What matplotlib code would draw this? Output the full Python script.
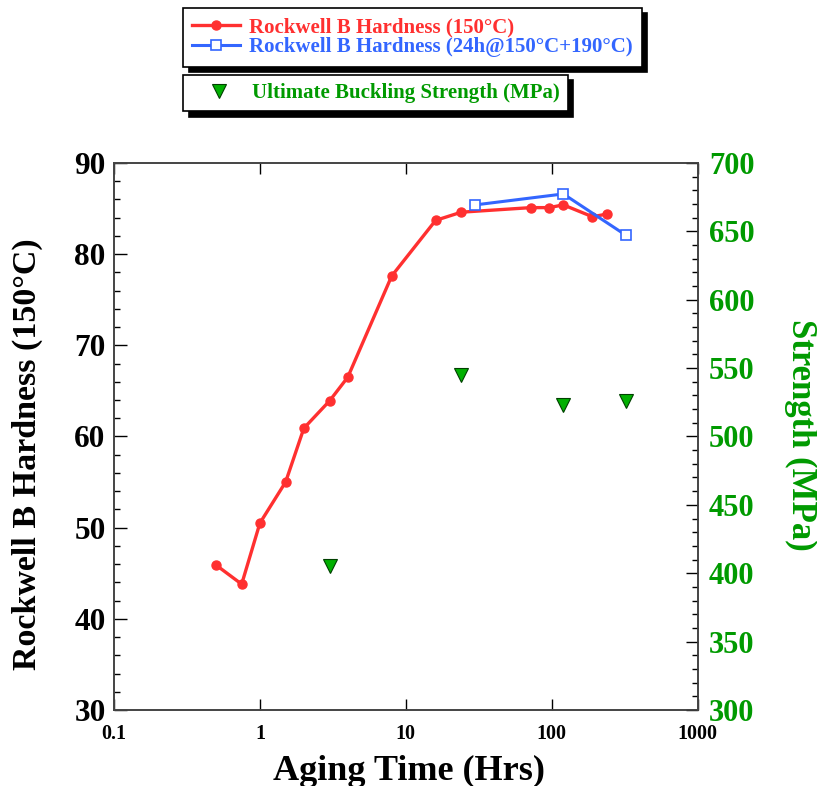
import numpy as np
import matplotlib
matplotlib.use("Agg")
import matplotlib.pyplot as plt
from matplotlib.ticker import MultipleLocator, FixedLocator, NullLocator

plt.rcParams['font.family'] = ['Liberation Serif', 'DejaVu Serif']
plt.rcParams['font.weight'] = 'bold'

# hardness after aging at 150C
t_150 = [0.5, 0.75, 1, 1.5, 2, 3, 4, 8, 16, 24, 72, 96, 120, 190, 240]
hrb_150 = [45.9, 43.8, 50.5, 55.0, 60.9, 63.9, 66.5, 77.6, 83.7, 84.6, 85.1, 85.1, 85.4, 84.1, 84.4]

# hardness, 24h at 150C then 190C
t_190 = [30, 120, 320]
hrb_190 = [85.4, 86.6, 82.1]

# buckling strength
t_str = [3, 24, 120, 322]
strength = [405, 545, 523, 526]

red = '#ff3030'
blue = '#3366ff'
green = '#009a00'

fig = plt.figure(figsize=(8.17, 7.86), dpi=100)
ax = fig.add_axes([0.1395, 0.0967, 0.7145, 0.696])
ax2 = ax.twinx()

l1, = ax.plot(t_150, hrb_150, '-o', color=red, lw=2.4, ms=6.5, label='Rockwell B Hardness (150°C)')
l2, = ax.plot(t_190, hrb_190, '-s', color=blue, lw=2.2, ms=7, mfc='white', mec=blue, mew=1.2,
              label='Rockwell B Hardness (24h@150°C+190°C)')
l3, = ax2.plot(t_str, strength, 'v', color='#00b000', mec='#004000', mew=0.8, ms=10, ls='none',
               label='Ultimate Buckling Strength (MPa)')

ax.set_xscale('log')
ax.set_xlim(0.1, 1000)
ax.set_ylim(30, 90)
ax2.set_ylim(300, 700)

ax.xaxis.set_major_locator(FixedLocator([0.1, 1, 10, 100, 1000]))
ax.xaxis.set_minor_locator(NullLocator())
ax.set_xticklabels(['0.1', '1', '10', '100', '1000'])
ax.yaxis.set_major_locator(MultipleLocator(10))
ax.yaxis.set_minor_locator(MultipleLocator(2))
ax2.yaxis.set_major_locator(MultipleLocator(50))
ax2.yaxis.set_minor_locator(MultipleLocator(10))

ax.tick_params(axis='x', which='major', direction='in', top=True, length=8, width=1, labelsize=14.5, pad=10)
ax.tick_params(axis='y', which='major', direction='in', length=9, width=1, labelsize=22.5, pad=6)
ax.tick_params(axis='y', which='minor', direction='in', length=4, width=1)
ax2.tick_params(axis='y', which='major', direction='in', length=9, width=1, labelsize=22,
                labelcolor=green, pad=8)
ax2.tick_params(axis='y', which='minor', direction='in', length=4, width=1)

for a in (ax, ax2):
    for s in a.spines.values():
        s.set_color('#444444')
        s.set_linewidth(1.2)

# axis titles placed in figure coordinates
fig.text(409 / 817, 1 - 771 / 786, 'Aging Time (Hrs)', fontsize=26, fontweight='bold',
         ha='center', va='center')
fig.text(27 / 817, 1 - 454 / 786, 'Rockwell B Hardness (150°C)', fontsize=24.5, fontweight='bold',
         rotation=90, ha='center', va='center')
fig.text(801 / 817, 1 - 435 / 786, 'Strength (MPa)', fontsize=25, fontweight='bold', color=green,
         rotation=270, ha='center', va='center')

shadow = {'color': 'black', 'alpha': 1, 'ox': 4, 'oy': -4}
leg1 = fig.legend(handles=[l1, l2], loc='upper left', bbox_to_anchor=(0.224, 0.99),
                  fontsize=15, frameon=True, fancybox=False, shadow=shadow, edgecolor='black',
                  framealpha=1, handlelength=2.3, handletextpad=0.4, borderpad=0.45,
                  labelspacing=0.0, borderaxespad=0)
leg1.get_frame().set_linewidth(1.2)
for txt, c in zip(leg1.get_texts(), [red, blue]):
    txt.set_color(c)

leg2 = fig.legend(handles=[l3], loc='upper left', bbox_to_anchor=(0.224, 0.905),
                  fontsize=15, frameon=True, fancybox=False, shadow=shadow, edgecolor='black',
                  framealpha=1, handlelength=2.7, handletextpad=0.2, borderpad=0.4,
                  borderaxespad=0)
leg2.get_frame().set_linewidth(1.2)
leg2.get_texts()[0].set_color(green)

fig.savefig('out.png', dpi=100)
